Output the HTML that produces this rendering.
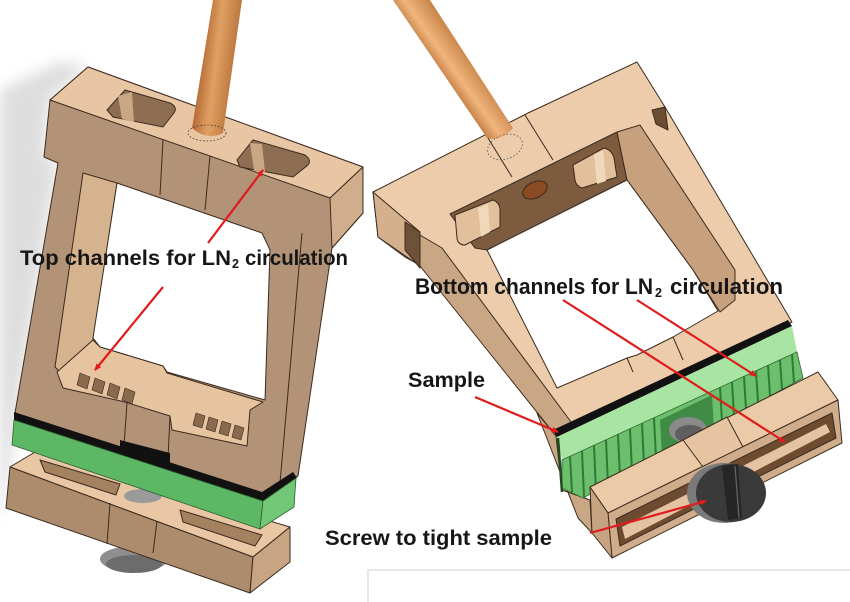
<!DOCTYPE html>
<html><head><meta charset="utf-8">
<style>
html,body{margin:0;padding:0;background:#fff;}
svg{display:block;}
text{font-family:"Liberation Sans",Arial,sans-serif;font-weight:bold;fill:#161616;}
</style></head><body>
<svg width="850" height="602" viewBox="0 0 850 602" xmlns="http://www.w3.org/2000/svg">
<defs>
 <linearGradient id="rodL" gradientUnits="userSpaceOnUse" x1="200" y1="64" x2="234" y2="68">
  <stop offset="0" stop-color="#b56c34"/><stop offset="0.45" stop-color="#e0a064"/><stop offset="1" stop-color="#bd773e"/>
 </linearGradient>
 <linearGradient id="rodR" gradientUnits="userSpaceOnUse" x1="441" y1="76" x2="469" y2="56">
  <stop offset="0" stop-color="#c07a40"/><stop offset="0.4" stop-color="#f0b67e"/><stop offset="1" stop-color="#c98548"/>
 </linearGradient>
 <filter id="blur" x="-50%" y="-50%" width="200%" height="200%"><feGaussianBlur stdDeviation="7"/></filter>
 <marker id="ah" markerWidth="8" markerHeight="8" refX="6" refY="4" orient="auto" markerUnits="userSpaceOnUse">
  <path d="M0,1 L7,4 L0,7 Z" fill="#e01b1b"/>
 </marker>
</defs>

<!-- shadow left -->
<polygon points="60,62 88,66 50,100 44,157 58,163 17,413 10,470 3,512 0,520 0,90" fill="#a8a8a8" opacity="0.38" filter="url(#blur)"/>

<!-- ===== LEFT ASSEMBLY ===== -->
<ellipse cx="134" cy="559" rx="34" ry="13" fill="#8e8e8e"/>
<ellipse cx="134" cy="564" rx="28" ry="9" fill="#6c6c6c"/>
<g stroke="#3b2b1f" stroke-width="1" stroke-linejoin="round">
 <polygon points="10,467 35,452 290,527 253,557" fill="#e9c7a4"/>
 <polygon points="40,460 120,484 116,495 45,472" fill="#a4825f"/>
 <polygon points="180,510 262,535 255,546 183,522" fill="#a4825f"/>
 <polygon points="10,467 253,557 250,593 6,508" fill="#ad8c6e"/>
 <polygon points="253,557 290,527 290,562 250,593" fill="#c7a482"/>
 <line x1="110" y1="503" x2="107" y2="544"/>
 <line x1="157" y1="521" x2="153" y2="553"/>
</g>
<ellipse cx="143" cy="496" rx="19" ry="7" fill="#9a9a9a"/>

<g stroke="#3b2b1f" stroke-width="1" stroke-linejoin="round">
 <polygon points="50,100 88,67 363,167 363,213 332,248 298,476 262,493 15,413 58,163 44,157" fill="#b39377"/>
 <polygon points="50,100 88,67 363,167 330,198" fill="#e8c6a4"/>
 <polygon points="330,198 363,167 363,213 332,248" fill="#d1ae8b"/>
 <polygon points="83,173 117,183 93,340 60,372 55,367" fill="#d6b38f"/>
 <polygon points="117,183 262,233 270,250 265,400 167,372 163,366 100,347 93,338" fill="#ffffff"/>
 <polygon points="57,372 93,340 100,347 163,366 167,373 263,402 250,410 247,446 172,430 170,416 125,402 63,388" fill="#e6c4a0"/>
 <line x1="163" y1="140" x2="160" y2="195"/>
 <line x1="210" y1="156" x2="205" y2="210"/>
 <line x1="302" y1="233" x2="280" y2="483"/>
 <line x1="127" y1="403" x2="124" y2="446"/>
 <line x1="170" y1="416" x2="168" y2="458"/>
</g>
<g fill="#8a6a4e" stroke="#3b2b1f" stroke-width="0.6">
 <polygon points="80,373 90,377 87,389 77,385"/>
 <polygon points="95,378 105,382 102,394 92,390"/>
 <polygon points="110,383 120,387 117,399 107,395"/>
 <polygon points="125,388 135,392 132,404 122,400"/>
 <polygon points="196,413 205,416 202,428 193,425"/>
 <polygon points="209,417 218,420 215,432 206,429"/>
 <polygon points="222,421 231,424 228,436 219,433"/>
 <polygon points="235,425 244,428 241,440 232,437"/>
</g>
<g stroke="#3b2b1f" stroke-width="1">
 <path d="M107,110 L125,90 L170,103 Q178,107 174,113 L163,127 L113,117 Z" fill="#8e6e52"/>
 <polygon points="118,96 132,92 134,122 122,119" fill="#c9a785" stroke="none"/>
 <path d="M237,160 L253,140 L305,155 Q312,160 308,165 L293,177 L240,167 Z" fill="#8e6e52"/>
 <polygon points="250,143 262,144 265,172 254,170" fill="#c9a785" stroke="none"/>
</g>
<polygon points="14,412 262,492 293,472 297,478 263,502 14,421" fill="#111"/>
<polygon points="120,440 170,453 170,472 120,456" fill="#111"/>
<polygon points="14,420 263,501 260,529 12,445" fill="#5db866" stroke="#2e5e30" stroke-width="0.8"/>
<polygon points="263,501 296,478 294,507 260,529" fill="#72c877" stroke="#2e5e30" stroke-width="0.8"/>
<path d="M213,0 L242,0 L223,133 Q207,141 192,128 Z" fill="url(#rodL)"/>
<ellipse cx="207" cy="133" rx="19" ry="8" fill="none" stroke="#333" stroke-width="0.8" stroke-dasharray="1.5,2"/>

<!-- ===== RIGHT ASSEMBLY ===== -->
<g stroke="#3b2b1f" stroke-width="1" stroke-linejoin="round">
 <polygon points="537,413 556,436 562,490 590,500 592,533 578,518" fill="#c9a684"/>
 <polygon points="373,192 528,113 637,62 665,107 792,322 556,436 420,265 405,257 378,237" fill="#ecccaa"/>
 <polygon points="373,192 420,232 420,266 378,237" fill="#d4b08d"/>
 <polygon points="405,222 420,232 420,268 405,250" fill="#6f5139"/>
 <polygon points="420,235 442,248 574,426 556,436 420,266" fill="#caa784"/>
 <polygon points="450,214 617,132 627,180 487,250 475,248" fill="#7d5b3f"/>
 <polygon points="617,132 640,125 735,270 735,300 720,312 693,270 627,180" fill="#c7a17d"/>
 <polygon points="652,110 665,107 668,130 656,124" fill="#6b4d33"/>
 <polygon points="487,250 627,180 693,270 718,311 673,337 637,355 627,358 557,388" fill="#ffffff"/>
 <path d="M455,215 L493,200 Q500,203 500,210 L500,227 L465,245 Q458,245 457,238 Z" fill="#e2c09c"/>
 <path d="M573,165 L604,148 Q612,150 614,158 L617,177 L582,188 Q576,186 575,180 Z" fill="#e2c09c"/>
 <ellipse cx="535" cy="190" rx="13" ry="8" transform="rotate(-25 535 190)" fill="#8a4a22"/>
 <line x1="488" y1="138" x2="512" y2="177"/>
 <line x1="525" y1="115" x2="553" y2="160"/>
 <line x1="627" y1="358" x2="633" y2="372"/>
 <line x1="673" y1="337" x2="683" y2="360"/>
</g>
<polygon points="478,208 488,204 490,232 481,237" fill="#f2d8bb"/>
<polygon points="594,154 603,150 606,181 597,184" fill="#f2d8bb"/>
<path d="M393,0 L430,0 L513,128 Q502,142 487,138 Z" fill="url(#rodR)"/>
<ellipse cx="505" cy="147" rx="18" ry="12" transform="rotate(-20 505 147)" fill="none" stroke="#555" stroke-width="0.8" stroke-dasharray="1.5,2"/>

<polygon points="553,430 788,320 792,326 557,437" fill="#111"/>
<polygon points="557,437 792,326 797,352 562,460" fill="#a8e4a2"/>
<polygon points="562,460 797,352 803,378 583,498 562,488" fill="#6cbf6c" stroke="#2f6a33" stroke-width="0.8"/>
<line x1="558" y1="438" x2="562" y2="492" stroke="#1f4a22" stroke-width="2.5"/>
<g stroke="#2f7a35" stroke-width="2">
 <line x1="570" y1="456" x2="572" y2="492"/>
 <line x1="582" y1="451" x2="584" y2="497"/>
 <line x1="594" y1="445" x2="596" y2="491"/>
 <line x1="606" y1="440" x2="608" y2="485"/>
 <line x1="618" y1="434" x2="620" y2="478"/>
 <line x1="630" y1="429" x2="632" y2="472"/>
 <line x1="642" y1="423" x2="644" y2="465"/>
 <line x1="654" y1="418" x2="656" y2="458"/>
 <line x1="720" y1="387" x2="722" y2="422"/>
 <line x1="732" y1="382" x2="734" y2="416"/>
 <line x1="744" y1="376" x2="746" y2="409"/>
 <line x1="756" y1="371" x2="758" y2="402"/>
 <line x1="768" y1="365" x2="770" y2="396"/>
 <line x1="780" y1="360" x2="782" y2="389"/>
 <line x1="792" y1="354" x2="794" y2="383"/>
</g>
<polygon points="660,420 712,395 714,430 662,455" fill="#3f8a44"/>
<ellipse cx="688" cy="430" rx="19" ry="13" fill="#8a8a8a"/>
<ellipse cx="690" cy="434" rx="15" ry="9" fill="#5e5e5e"/>

<g stroke="#3b2b1f" stroke-width="1" stroke-linejoin="round">
 <polygon points="590,487 818,372 838,400 608,513" fill="#ebcaa8"/>
 <polygon points="683,440 727,417 743,447 703,467" fill="#e6c4a1"/>
 <polygon points="608,513 838,400 842,443 612,558" fill="#cfac8a"/>
 <polygon points="616,519 832,413 836,438 620,546" fill="#6d4b31"/>
 <polygon points="622,527 826,424 830,432 625,539" fill="#e3c3a1" stroke="none"/>
 <polygon points="590,487 608,513 612,558 592,533" fill="#c6a381"/>
</g>
<ellipse cx="724" cy="493" rx="37" ry="30" fill="#7a7a7a"/>
<ellipse cx="731" cy="493" rx="35" ry="29" fill="#3a3a3a"/>
<polygon points="722,466 738,464 742,518 728,520" fill="#262626"/>
<line x1="735" y1="466" x2="739" y2="518" stroke="#666" stroke-width="1.2"/>

<g stroke="#e01b1b" stroke-width="2.2" fill="none" marker-end="url(#ah)">
 <line x1="208" y1="243" x2="263" y2="170"/>
 <line x1="163" y1="287" x2="95" y2="370"/>
 <line x1="563" y1="300" x2="785" y2="442"/>
 <line x1="637" y1="300" x2="756" y2="376"/>
 <line x1="475" y1="397" x2="558" y2="432"/>
 <line x1="590" y1="533" x2="706" y2="501"/>
</g>

<path d="M368,602 L368,570 L850,570" fill="none" stroke="#cfcfcf" stroke-width="1"/>

<text x="20" y="265" font-size="21" textLength="211" lengthAdjust="spacingAndGlyphs">Top channels for LN</text>
<text x="232" y="268" font-size="13" textLength="7" lengthAdjust="spacingAndGlyphs">2</text>
<text x="245" y="265" font-size="21" textLength="103" lengthAdjust="spacingAndGlyphs">circulation</text>

<text x="415" y="294" font-size="22" textLength="238" lengthAdjust="spacingAndGlyphs">Bottom channels for LN</text>
<text x="655" y="297" font-size="13" textLength="7" lengthAdjust="spacingAndGlyphs">2</text>
<text x="670" y="294" font-size="22" textLength="113" lengthAdjust="spacingAndGlyphs">circulation</text>

<text x="408" y="387" font-size="21" textLength="77" lengthAdjust="spacingAndGlyphs">Sample</text>
<text x="325" y="545" font-size="21" textLength="227" lengthAdjust="spacingAndGlyphs">Screw to tight sample</text>
</svg>
</body></html>
